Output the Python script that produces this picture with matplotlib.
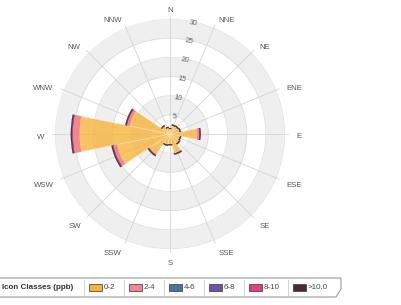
import numpy as np
import matplotlib.pyplot as plt
from matplotlib.patches import Rectangle, Polygon
from matplotlib.lines import Line2D

plt.rcParams['font.family'] = ['Liberation Sans', 'DejaVu Sans']

# data (ppb per direction, stacked by class)
directions = ['N', 'NNE', 'NE', 'ENE', 'E', 'ESE', 'SE', 'SSE',
              'S', 'SSW', 'SW', 'WSW', 'W', 'WNW', 'NW', 'NNW']
classes = ['0-2', '2-4', '4-6', '6-8', '8-10', '>10.0']
class_colors = ['#f5b43c', '#f4848e', '#4a72a0', '#6a52a6', '#e0407c', '#4a2a30']

c_0_2 = [1.3, 2.3, 2.4, 2.6, 7.1, 2.7, 3.0, 5.1, 2.7, 2.9, 6.4, 14.1, 23.6, 10.7, 2.5, 1.7]
c_2_4 = [0.05, 0.05, 0.05, 0.05, 0.6, 0.05, 0.05, 0.1, 0.05, 0.05, 0.2, 1.0, 1.8, 0.8, 0.05, 0.05]
c_4_6 = [0.0, 0.0, 0.0, 0.0, 0.03, 0.0, 0.0, 0.03, 0.0, 0.0, 0.03, 0.05, 0.05, 0.03, 0.0, 0.0]
c_6_8 = [0.0, 0.0, 0.0, 0.0, 0.03, 0.0, 0.0, 0.03, 0.0, 0.0, 0.05, 0.08, 0.08, 0.05, 0.0, 0.0]
c_8_10 = [0.0, 0.0, 0.0, 0.0, 0.03, 0.0, 0.0, 0.03, 0.0, 0.0, 0.05, 0.08, 0.08, 0.05, 0.0, 0.0]
c_gt10 = [0.2, 0.22, 0.22, 0.22, 0.22, 0.22, 0.22, 0.22, 0.22, 0.22, 0.22, 0.25, 0.25, 0.25, 0.22, 0.2]
series = [c_0_2, c_2_4, c_4_6, c_6_8, c_8_10, c_gt10]

rings = [5, 10, 15, 20, 25, 30]

W, H = 402, 305
fig = plt.figure(figsize=(W / 100, H / 100), dpi=100)
cx, cy, R = 170, 134, 115
ax = fig.add_axes([(cx - R) / W, (H - cy - R) / H, 2 * R / W, 2 * R / H],
                  projection='polar')
ax.set_theta_zero_location('N')
ax.set_theta_direction(-1)
ax.set_ylim(0, 30)
ax.set_axis_off()

tt = np.linspace(0, 2 * np.pi, 361)
# alternating bands
for r0 in rings[::2]:
    ax.fill_between(tt, r0, r0 + 5, color='#efefef', lw=0, zorder=0)
for r in rings:
    ax.plot(tt, np.full_like(tt, r), color='#dddddd', lw=0.6, zorder=1)

theta = np.deg2rad(np.arange(len(directions)) * 22.5)
for t in theta:
    ax.plot([t, t], [0, 30.8], color='#d4d4d4', lw=0.6, zorder=1, clip_on=False)

# stacked bars
bottom = np.zeros(len(directions))
for vals, col in zip(series, class_colors):
    vals = np.array(vals)
    first = col == class_colors[0]
    ax.bar(theta, vals, width=2 * np.pi / 16, bottom=bottom, color=col,
           alpha=0.8 if first else 1.0,
           edgecolor='#fbe6c0' if first else col,
           lw=0.4 if first else 0.2, zorder=2)
    bottom += vals

# direction labels
for d, t in zip(directions, theta):
    a = np.rad2deg(t)
    if a in (0, 180):
        ha = 'center'
    elif a < 180:
        ha = 'left'
    else:
        ha = 'right'
    ax.annotate(d, xy=(t, 30.8), xytext=(8 * np.sin(t), 8 * np.cos(t) - 3),
                textcoords='offset pixels', ha=ha, va='center',
                fontsize=5.6, color='#555555', annotation_clip=False)

# radial labels
for r in rings:
    ax.text(np.deg2rad(12), r - 0.4, str(r), ha='center', va='center',
            fontsize=5.6, color='#666666', rotation=-10, zorder=3)


# legend (drawn in pixel coords)
def fx(x):
    return x / W


def fy(y):
    return 1 - y / H


box = Polygon([(fx(-5), fy(278)), (fx(341), fy(278)), (fx(341), fy(289)),
               (fx(336), fy(297)), (fx(-5), fy(297))], closed=True,
              transform=fig.transFigure, facecolor='white',
              edgecolor='#9a9a9a', lw=0.8)
fig.patches.append(box)
fig.text(fx(2), fy(287.5), 'Icon Classes (ppb)', fontsize=5.8, weight='bold',
         color='#333333', ha='left', va='center')

sx = 84
for lab, col in zip(classes, class_colors):
    fig.lines.append(Line2D([fx(sx), fx(sx)], [fy(280), fy(295)],
                            transform=fig.transFigure, color='#cccccc', lw=0.6))
    fig.patches.append(Rectangle((fx(sx + 5), fy(291)), 13 / W, 7 / H,
                                 transform=fig.transFigure, facecolor=col,
                                 edgecolor='#333333', lw=0.5))
    fig.text(fx(sx + 20), fy(287.5), lab, fontsize=5.8, color='#444444',
             ha='left', va='center')
    sx += 27 + 4.3 * len(lab)

fig.savefig('out.png', dpi=100)
